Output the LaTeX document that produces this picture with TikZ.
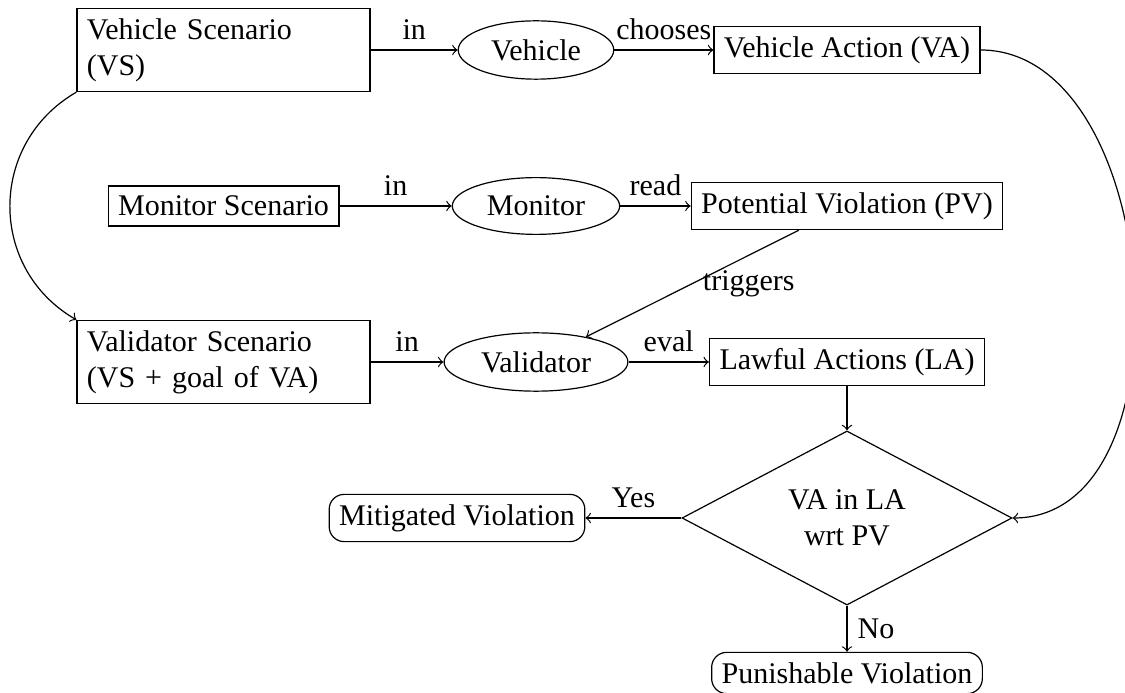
\documentclass[tikz,border=0pt]{standalone}
\usepackage{fontspec}
\setmainfont{Liberation Serif}
\usetikzlibrary{shapes.geometric}
\begin{document}
\begin{tikzpicture}[x=0.3333pt, y=-0.3333pt,
  box/.style={draw, rectangle, inner sep=3.33pt},
  twoline/.style={box, text width=3.2cm, align=left},
  rbox/.style={box, rounded corners=5pt},
  ell/.style={draw, ellipse, inner sep=3.33pt},
  dia/.style={draw, diamond, inner sep=0pt, align=center},
  arr/.style={->}]
\useasboundingbox (0,0) rectangle (1125,693);
\node[twoline] (vs) at (223.5,50) {Vehicle Scenario\\(VS)};
\node[ell] (veh) at (536,50) {Vehicle};
\node[box] (va) at (847,50) {Vehicle Action (VA)};
\node[box] (mon) at (223.5,206) {Monitor Scenario};
\node[ell] (monl) at (536,206) {Monitor};
\node[box] (pv) at (847,206) {Potential Violation (PV)};
\node[twoline] (val) at (223.5,362) {Validator Scenario\\(VS + goal of VA)};
\node[ell] (vall) at (536,362) {Validator};
\node[box] (la) at (847,362) {Lawful Actions (LA)};
\node[dia, minimum width=110pt, minimum height=55pt] (dec) at (847,518) {VA in LA\\wrt PV};
\node[rbox] (mit) at (457,518) {Mitigated Violation};
\node[rbox] (pun) at (847,673) {Punishable Violation};

\draw[arr] (vs) -- node[above] {in} (veh);
\draw[arr] (veh) -- node[above] {chooses} (va);
\draw[arr] (mon) -- node[above] {in} (monl);
\draw[arr] (monl) -- node[above] {read} (pv);
\draw[arr] (val) -- node[above] {in} (vall);
\draw[arr] (vall) -- node[above] {eval} (la);
\draw[arr] (pv) -- node[right] {triggers} (vall);
\draw[arr] (la) -- (dec);
\draw[arr] (dec) -- node[above] {Yes} (mit);
\draw[arr] (dec) -- node[right] {No} (pun);
\draw[arr] (va.east) to[out=0, in=0] (dec.east);
\draw[arr] (vs.south west) to[out=210, in=150, looseness=1.15] (val.north west);
\end{tikzpicture}
\end{document}
